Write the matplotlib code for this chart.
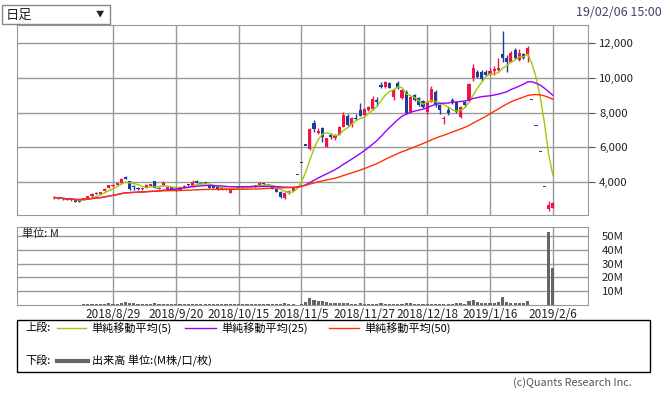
import numpy as np
import pandas as pd
import matplotlib
matplotlib.use("Agg")
import matplotlib.pyplot as plt
from matplotlib.patches import Rectangle
from matplotlib.lines import Line2D

plt.rcParams['font.family'] = ['Noto Sans CJK JP', 'DejaVu Sans']

# daily OHLC (yen), 2018/8/8 .. 2019/2/6
opens = [3050, 3110, 3060, 3000, 2950, 2960, 2870, 2960, 3060, 3180,
         3380, 3310, 3480, 3660, 3760, 3830, 3930, 4280, 4030, 3720,
         3650, 3580, 3700, 3790, 4030, 3600, 3780, 3620, 3700, 3620,
         3560, 3700, 3870, 3760, 4030, 3960, 3990, 3840, 3760, 3690,
         3560, 3580, 3380, 3600, 3680, 3650, 3680, 3700, 3740, 3780,
         3920, 3880, 3740, 3600, 3450, 3100, 3350, 3500, 4400, 5100,
         6100, 5900, 7390, 6850, 7100, 6040, 6700, 6560, 6720, 7200,
         7810, 7290, 7720, 8150, 7870, 8150, 8200, 8750, 9600, 9500,
         9700, 8920, 9700, 8860, 9210, 8060, 9020, 8840, 8700, 8060,
         8640, 9210, 8440, 7640, 8160, 8730, 8630, 7770, 8630, 8670,
         9980, 10360, 10360, 10360, 10210, 10400, 10460, 11370, 11140, 10940,
         11610, 11040, 11370, 11330, 8710, 7210, 5710, 3710, 2420, 2530]
highs = [3150, 3130, 3080, 3020, 3000, 2970, 2960, 3080, 3200, 3340,
         3400, 3420, 3640, 3850, 3880, 3960, 4250, 4360, 4080, 3820,
         3700, 3680, 3900, 3880, 4060, 3700, 4030, 3720, 3730, 3650,
         3720, 3800, 3900, 4120, 4100, 3990, 4010, 3860, 3780, 3720,
         3660, 3660, 3600, 3700, 3700, 3740, 3740, 3800, 3840, 3980,
         3960, 3900, 3760, 3620, 3470, 3450, 3520, 3720, 4400, 5100,
         6100, 7100, 7580, 7100, 7200, 6560, 6800, 6750, 7250, 8060,
         7950, 7750, 7900, 8540, 8250, 8400, 8950, 8900, 9750, 9850,
         9760, 9350, 9800, 9350, 9300, 8950, 9100, 8900, 8750, 8700,
         9540, 9300, 8500, 7830, 8300, 8820, 8700, 8400, 8700, 9700,
         10790, 10450, 10450, 10450, 10550, 10700, 11130, 12710, 11300, 11550,
         11700, 11650, 11450, 11850, 8710, 7210, 5710, 3710, 2930, 2850]
lows = [3030, 3040, 2980, 2940, 2930, 2830, 2850, 2950, 3040, 3160,
        3290, 3290, 3460, 3640, 3740, 3800, 3900, 4150, 3560, 3560,
        3550, 3550, 3680, 3750, 3650, 3580, 3760, 3600, 3600, 3500,
        3540, 3680, 3780, 3740, 3930, 3880, 3880, 3640, 3660, 3560,
        3540, 3560, 3360, 3580, 3620, 3630, 3660, 3690, 3720, 3760,
        3840, 3800, 3570, 3430, 3100, 3020, 3330, 3480, 4400, 5100,
        6100, 5850, 6910, 6750, 6330, 6000, 6500, 6450, 6700, 7150,
        7250, 7200, 7600, 7800, 7850, 8100, 8180, 8400, 9450, 9450,
        9400, 8750, 9380, 8800, 7950, 8000, 8650, 8400, 8250, 7950,
        8600, 8350, 7900, 7350, 7850, 8500, 7960, 7700, 8350, 8600,
        9810, 10000, 9800, 10100, 10150, 10150, 10400, 10900, 10360, 10900,
        11100, 11000, 11100, 10950, 8710, 7210, 5710, 3710, 2330, 2480]
closes = [3110, 3060, 3000, 2960, 2980, 2860, 2950, 3060, 3180, 3320,
          3320, 3400, 3620, 3830, 3850, 3930, 4180, 4180, 3590, 3690,
          3610, 3650, 3830, 3850, 3680, 3660, 3930, 3680, 3620, 3530,
          3700, 3780, 3800, 3990, 3950, 3900, 3900, 3660, 3680, 3580,
          3640, 3640, 3580, 3680, 3640, 3720, 3720, 3780, 3820, 3920,
          3860, 3820, 3590, 3450, 3150, 3350, 3500, 3700, 4400, 5100,
          6100, 7040, 7060, 6950, 6620, 6520, 6620, 6650, 7200, 7870,
          7290, 7680, 7650, 7830, 8200, 8350, 8770, 8600, 9500, 9790,
          9410, 9310, 9410, 9310, 8000, 8920, 8730, 8460, 8300, 8630,
          9370, 8440, 8150, 7720, 7970, 8560, 8060, 8350, 8450, 9640,
          10560, 10080, 9930, 10170, 10400, 10500, 10560, 11140, 10910, 11420,
          11170, 11420, 11180, 11710, 8710, 7210, 5710, 3710, 2700, 2780]
# volume (million shares)
volumes = [0.2, 0.2, 0.3, 0.2, 0.2, 0.3, 0.3, 0.4, 0.4,
           0.8, 0.6, 0.7, 1.0, 1.2, 0.9, 0.8,
           1.5, 2.4, 1.8, 1.2, 0.8,
           0.6, 0.9, 1.0, 1.2, 0.8, 0.9, 0.7, 0.6, 0.6,
           0.7, 0.6, 0.8, 0.9, 0.7, 0.5, 0.5, 0.6, 0.5, 0.4, 0.4, 0.5, 0.6, 0.4, 0.4,
           0.4, 0.4, 0.5, 0.5, 0.6, 0.5, 0.5, 0.7, 0.9, 1.0, 1.2, 0.8, 0.7,
           0.3, 0.4, 2.0,
           4.8, 3.8, 3.0, 2.8, 2.2, 1.5, 1.2, 1.3, 1.5, 1.2,
           1.0, 0.9, 1.1, 0.9, 0.8, 1.0, 0.9, 1.2, 0.9, 0.8, 0.9, 0.8, 1.0, 1.5, 1.2, 0.9, 0.8, 0.9,
           0.8, 1.0, 0.9, 0.8, 1.0, 0.8, 0.9, 1.5, 1.2, 0.9, 2.8,
           3.5, 2.2, 1.6, 1.5, 1.6, 1.8, 2.0,
           5.5,
           2.0, 1.8, 1.6, 1.5, 1.2, 3.0,
           0.2, 0.2, 0.2, 0.2,
           52.5, 26.5]

date_ticks = [14, 29, 44, 59, 74, 89, 104, 119]
date_labels = ["2018/8/29", "2018/9/20", "2018/10/15", "2018/11/5",
               "2018/11/27", "2018/12/18", "2019/1/16", "2019/2/6"]
price_ticks = [4000, 6000, 8000, 10000, 12000]
vol_ticks = [10, 20, 30, 40, 50]

UP = '#f0144b'
DOWN = '#1c3d9a'
GRID = '#999999'

W, H = 670, 395


def fx(x):
    return x / W


def fy(y):
    return 1 - y / H


df = pd.DataFrame({'o': opens, 'h': highs, 'l': lows, 'c': closes, 'v': volumes})
x = np.arange(len(df))
ma5 = df['c'].rolling(5, min_periods=1).mean()
ma25 = df['c'].rolling(25, min_periods=1).mean()
ma50 = df['c'].rolling(50, min_periods=1).mean()
colors = [UP if c > o else DOWN for o, c in zip(df['o'], df['c'])]

fig = plt.figure(figsize=(W / 100, H / 100), dpi=100)
ax = fig.add_axes([fx(17), fy(215), fx(571), 190 / H])
axv = fig.add_axes([fx(17), fy(305), fx(571), 78 / H])

for a in (ax, axv):
    a.set_xlim(-8.9, 127.4)
    a.set_xticks(date_ticks)
    a.grid(True, color=GRID, lw=1)
    a.set_axisbelow(True)
    for s in a.spines.values():
        s.set_color(GRID)
    a.yaxis.tick_right()

# candles
ax.vlines(x, df['l'], df['h'], colors=colors, lw=1, zorder=2)
body_bottom = np.minimum(df['o'], df['c'])
body_h = np.maximum(np.abs(df['c'] - df['o']), 70)
ax.bar(x, body_h, 0.75, bottom=body_bottom, color=colors, lw=0, zorder=3)
ax.plot(x, ma5, color='#99cc00', lw=1, zorder=4)
ax.plot(x, ma25, color='#9900ff', lw=1, zorder=4)
ax.plot(x, ma50, color='#ff3300', lw=1, zorder=4)
ax.set_ylim(2098, 13055)
ax.set_yticks(price_ticks)
ax.set_yticklabels([f"{v:,}" for v in price_ticks])
ax.tick_params(axis='y', direction='out', length=5, color='#555555', labelsize=8.2, pad=3, labelcolor='#222222')
ax.tick_params(axis='x', length=0, labelbottom=False)

# volume
axv.bar(x, df['v'], 0.75, color='#666666', lw=0, zorder=3)
axv.set_ylim(0, 56.4)
axv.set_yticks(vol_ticks)
axv.set_yticklabels([f"{v}M" for v in vol_ticks])
axv.tick_params(axis='y', length=0, labelsize=8.2, pad=10, labelcolor='#222222')
axv.set_xticklabels(date_labels)
axv.tick_params(axis='x', length=0, labelsize=8.5, pad=2, labelcolor='#222222')
axv.text(5 / 571, 0.91, "単位: M", transform=axv.transAxes, fontsize=8, va='center', color='#222222')

# header
fig.add_artist(Rectangle((fx(2), fy(24)), fx(108), 19 / H, transform=fig.transFigure,
                         fill=False, ec='#888888', lw=1))
fig.text(fx(6), fy(15), "日足", fontsize=9.5, va='center', color='#222222')
fig.text(fx(100), fy(14), "▼", fontsize=6, va='center', ha='center', color='#222222')
fig.text(fx(662), fy(13), "19/02/06 15:00", fontsize=9, va='center', ha='right', color='#3c4466')

# legend
fig.add_artist(Rectangle((fx(17), fy(372)), fx(633), 52 / H, transform=fig.transFigure,
                         fill=False, ec='black', lw=1))
fig.text(fx(25), fy(328), "上段:", fontsize=8, va='center')
legend_items = [(57, 86, '#99cc00', "単純移動平均(5)"),
                (185, 216, '#9900ff', "単純移動平均(25)"),
                (329, 359, '#ff3300', "単純移動平均(50)")]
for x0, x1, col, label in legend_items:
    fig.add_artist(Line2D([fx(x0), fx(x1)], [fy(328), fy(328)], transform=fig.transFigure, color=col, lw=1))
    fig.text(fx(x1 + 5), fy(328), label, fontsize=8, va='center')
fig.text(fx(25), fy(361), "下段:", fontsize=8, va='center')
fig.add_artist(Line2D([fx(57), fx(88)], [fy(361), fy(361)], transform=fig.transFigure, color='#666666', lw=3))
fig.text(fx(92), fy(361), "出来高 単位:(M株/口/枚)", fontsize=8, va='center')

fig.text(fx(632), fy(383), "(c)Quants Research Inc.", fontsize=7.8, va='center', ha='right', color='#555555')

fig.savefig("out.png", dpi=100)
